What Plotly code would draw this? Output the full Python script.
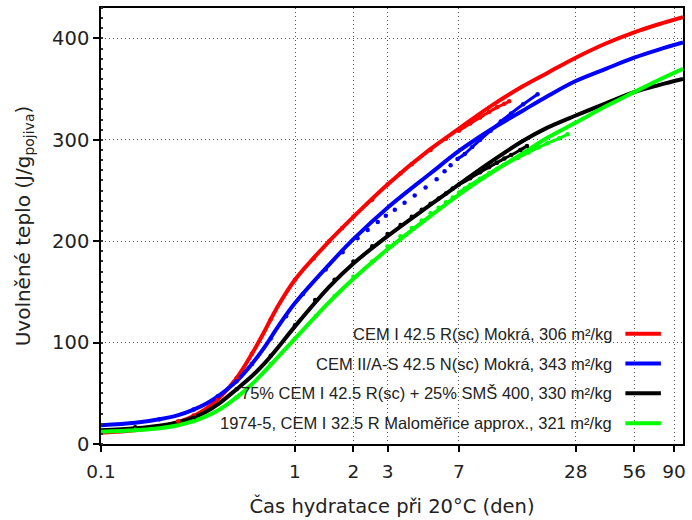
import plotly.graph_objects as go

# ---------------- data ----------------
x_tick_vals = [0.1, 1, 2, 3, 7, 28, 56, 90]
x_tick_text = ["0.1", "1", "2", "3", "7", "28", "56", "90"]
y_tick_vals = [0, 100, 200, 300, 400]

series_names = [
    "CEM I 42.5 R(sc) Mokrá, 306 m²/kg",
    "CEM II/A-S 42.5 N(sc) Mokrá, 343 m²/kg",
    "75% CEM I 42.5 R(sc) + 25% SMŠ 400, 330 m²/kg",
    "1974-5, CEM I 32.5 R Maloměřice approx., 321 m²/kg",
]
series_colors = ["#ff0000", "#0000ff", "#000000", "#00ff00"]

# model curves (days, J/g)
t_model = [0.1, 0.15, 0.2, 0.25, 0.3, 0.35, 0.4, 0.5, 0.6, 0.7, 0.8, 1.0,
           1.5, 2, 3, 5, 7, 10, 15, 20, 28, 40, 56, 75, 100]
q_model_red = [11, 13.5, 17, 21.5, 27.5, 35, 44, 65, 89, 112, 133, 162,
               200, 224, 256, 291, 311, 332, 353, 366, 381, 395, 406, 414, 421]
q_model_blue = [18.5, 21, 24.5, 28.5, 34, 40, 47, 62, 79, 96, 113, 139,
                177, 202, 233, 267, 289, 309, 329, 343, 358, 370, 381, 389, 396]
q_model_black = [13.5, 15.5, 18, 21.5, 26, 32, 39, 54, 67, 80, 93, 116,
                 155, 178, 205, 236, 256, 277, 299, 312, 324, 336, 347, 354, 360]
q_model_green = [12, 13.5, 15.5, 18.5, 22.5, 27.5, 33, 46, 59, 72, 84, 104,
                 140, 163, 192, 225, 246, 266, 287, 302, 317, 333, 347, 359, 370]

# measured data (days, J/g)
t_data_red = [0.25, 0.3, 0.4, 0.5, 0.6, 0.75, 1, 1.25, 1.5, 1.75, 2, 2.5, 3,
              3.5, 4, 5, 6, 7, 8, 9, 10, 11, 12, 12.7]
q_data_red = [22.5, 28, 44, 65, 89, 123, 162, 183, 200, 213, 224, 241, 256,
              267, 276, 290, 301, 309, 316, 322, 327.5, 332, 335.5, 338]

t_data_blue = [0.2, 0.3, 0.4, 0.5, 0.6, 0.75, 0.9, 1.1, 1.44, 1.76, 2.1, 2.37,
               2.67, 2.94, 3.27, 3.67, 4.14, 4.71, 5.37, 5.9, 6.34, 6.88, 7.5,
               8.2, 9, 10.2, 11.5, 13, 15, 17.8]
q_data_blue = [24.5, 34, 47, 62, 79, 104, 126, 148, 172, 189, 203, 211,
               219, 225, 231, 238, 245, 253, 261, 269, 275, 281, 286,
               293, 300, 309, 318, 326, 335, 345]

t_data_black = [0.15, 0.3, 0.5, 0.75, 1, 1.27, 1.6, 2, 2.5, 3, 3.5, 4, 4.5, 5,
                5.5, 6, 6.5, 7, 8, 9, 10, 11, 12, 13, 14.5, 15.7]
q_data_black = [16.5, 26, 54, 87, 117, 142, 162, 180, 195, 207, 216, 224,
                231, 237, 242, 247, 252, 256, 262, 268, 273, 277.5, 281.5, 285,
                290, 294]

t_data_green = [0.15, 0.3, 0.5, 0.75, 1, 1.28, 1.6, 2, 2.5, 3, 3.5, 4, 4.5, 5,
                5.5, 6, 6.5, 7, 7.5, 8, 9, 10, 11, 12, 14, 16, 18, 20, 23, 25.4]
q_data_green = [14, 22.5, 46, 79, 104, 126, 146, 165, 180, 195, 205, 213,
                220.5, 227.5, 233, 238.5, 243, 248, 252, 255.5, 261.5, 267,
                271.5, 275.5, 282, 287.5, 292.5, 296.5, 301.5, 305.5]

x_title = "Čas hydratace při 20°C (den)"
y_title = "Uvolněné teplo (J/g<sub>pojiva</sub>)"

# ---------------- figure ----------------
fig = go.Figure()

models = [q_model_red, q_model_blue, q_model_black, q_model_green]
datas = [(t_data_red, q_data_red), (t_data_blue, q_data_blue),
         (t_data_black, q_data_black), (t_data_green, q_data_green)]

for q, c in zip(models, series_colors):
    fig.add_trace(go.Scatter(x=t_model, y=q, mode="lines",
                             line=dict(color=c, width=4, shape="spline", smoothing=1.0),
                             showlegend=False, hoverinfo="skip"))

TAIL_START = 6.8  # beyond this the readings merge into a solid line
for (t, q), c in zip(datas, series_colors):
    fig.add_trace(go.Scatter(x=t, y=q, mode="markers",
                             marker=dict(color=c, size=4.5, line=dict(width=0)),
                             showlegend=False, hoverinfo="skip"))
    tt = [a for a in t if a >= TAIL_START]
    qq = [b for a, b in zip(t, q) if a >= TAIL_START]
    fig.add_trace(go.Scatter(x=tt, y=qq, mode="lines",
                             line=dict(color=c, width=3, shape="spline", smoothing=0.6),
                             showlegend=False, hoverinfo="skip"))

# white legend panel that hides the grid (drawn between grid and traces)
fig.add_shape(type="rect", xref="paper", yref="paper", x0=0.029, x1=0.976,
              y0=0.014, y1=0.31, fillcolor="white", line=dict(width=0),
              layer="between")

leg_y = [0.2528, 0.1845, 0.1162, 0.0478]
for name, c, yy in zip(series_names, series_colors, leg_y):
    fig.add_annotation(xref="paper", yref="paper", x=0.882, y=yy, text=name,
                       showarrow=False, xanchor="right", yanchor="middle",
                       font=dict(family="Liberation Sans, Arial", size=16.5, color="#222"))
    fig.add_shape(type="line", xref="paper", yref="paper", x0=0.901, x1=0.962,
                  y0=yy, y1=yy, line=dict(color=c, width=4))

font_main = "DejaVu Sans"
fig.update_layout(
    width=692, height=520,
    margin=dict(l=101, r=6, t=7, b=74),
    paper_bgcolor="white", plot_bgcolor="white",
    showlegend=False,
    xaxis=dict(type="log", range=[-1, 2],
               tickvals=x_tick_vals, ticktext=x_tick_text,
               ticks="outside", ticklen=6, tickwidth=1.5, tickcolor="black",
               ticklabelstandoff=4,
               showline=True, linecolor="black", linewidth=1.5, mirror=True,
               showgrid=True, gridcolor="#555", gridwidth=1, griddash="1px,3px",
               zeroline=False,
               tickfont=dict(family=font_main, size=18.5, color="#222"),
               title=dict(text=x_title, font=dict(family=font_main, size=19.5, color="#222"),
                          standoff=18)),
    yaxis=dict(range=[0, 430], tickvals=y_tick_vals,
               ticks="outside", ticklen=6, tickwidth=1.5, tickcolor="black",
               showline=True, linecolor="black", linewidth=1.5, mirror=True,
               showgrid=True, gridcolor="#555", gridwidth=1, griddash="1px,3px",
               zeroline=False,
               minor=dict(ticks="inside", dtick=10, ticklen=2, tickcolor="#333", showgrid=False),
               tickfont=dict(family=font_main, size=19.5, color="#222"),
               title=dict(text=y_title, font=dict(family=font_main, size=20, color="#222"),
                          standoff=16)),
)

fig.write_html("out.html")
